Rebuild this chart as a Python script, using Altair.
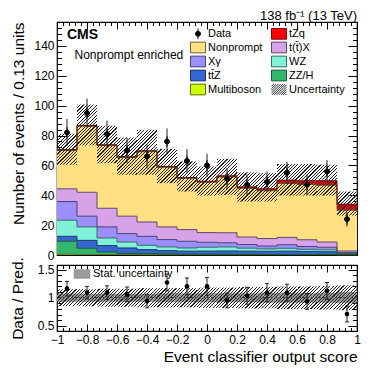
import altair as alt
import pandas as pd
import math

FONT = "Liberation Sans"

# ---------------- data ----------------
edges = [-1.0, -0.8667, -0.7333, -0.6, -0.4667, -0.3333, -0.2, -0.0667,
         0.0667, 0.2, 0.3333, 0.4667, 0.6, 0.7333, 0.8667, 1.0]

multiboson = [0.5, 0.4, 0.3, 0.3, 0.2, 0.2, 0.2, 0.2, 0.2, 0.2, 0.2, 0.2, 0.2, 0.2, 0.1]
zzh        = [8.7, 4.1, 1.7, 0.8, 0.7, 0.5, 0.4, 0.3, 0.3, 0.3, 0.2, 0.2, 0.2, 0.2, 0.1]
ttz        = [3.3, 5.3, 4.3, 3.6, 2.7, 2.2, 2.0, 2.1, 2.2, 2.1, 2.1, 2.2, 2.0, 1.8, 0.5]
wz         = [10.8, 9.0, 5.1, 4.0, 2.9, 2.5, 2.1, 2.6, 2.7, 2.0, 1.6, 1.9, 1.4, 1.3, 0.3]
xgamma     = [12.5, 7.2, 7.4, 5.6, 6.0, 4.9, 4.5, 3.3, 2.8, 2.4, 1.9, 2.4, 1.9, 1.7, 0.6]
ttx        = [8.5, 16.0, 12.5, 11.7, 9.6, 8.5, 7.8, 6.5, 6.7, 5.0, 5.0, 4.9, 4.5, 3.5, 1.1]
nonprompt  = [25.7, 44.2, 42.0, 39.3, 47.1, 39.9, 34.2, 33.7, 37.3, 32.6, 32.0, 36.1, 37.0, 38.0, 27.3]
tzq        = [0.5, 0.6, 0.5, 0.5, 0.6, 0.6, 0.7, 0.7, 0.8, 1.0, 1.3, 2.2, 2.5, 3.0, 4.0]

data_obs = [82, 95, 81, 70, 66, 76, 63, 60, 51, 47, 49, 55, 47, 56, 24]
data_err = [9.1, 9.7, 9.0, 8.4, 8.1, 8.7, 7.9, 7.7, 7.1, 6.9, 7.0, 7.4, 6.9, 7.5, 4.9]

unc_hi = [81.0, 100.7, 86.6, 78.7, 83.9, 71.1, 62.6, 59.3, 64.4, 55.3, 54.8, 60.9, 60.9, 60.5, 42.5]
unc_lo = [60.4, 73.4, 61.5, 53.7, 53.7, 48.1, 42.5, 39.8, 40.3, 35.8, 35.8, 39.8, 39.8, 39.8, 26.4]

ratio_val = [1.16, 1.09, 1.09, 1.06, 0.94, 1.27, 1.20, 1.20, 0.95, 1.035, 1.09, 1.09, 0.935, 1.12, 0.71]
ratio_err = [0.13, 0.11, 0.12, 0.13, 0.12, 0.15, 0.15, 0.16, 0.13, 0.15, 0.16, 0.15, 0.14, 0.15, 0.14]
ratio_unc_hi = [1.15, 1.15, 1.16, 1.16, 1.17, 1.17, 1.17, 1.18, 1.18, 1.19, 1.19, 1.20, 1.20, 1.21, 1.22]
ratio_unc_lo = [0.85, 0.85, 0.84, 0.84, 0.83, 0.83, 0.83, 0.82, 0.82, 0.81, 0.81, 0.80, 0.80, 0.79, 0.78]
stat_hi = [1.07, 1.07, 1.07, 1.07, 1.07, 1.08, 1.08, 1.08, 1.08, 1.08, 1.09, 1.09, 1.09, 1.09, 1.10]
stat_lo = [0.93, 0.93, 0.93, 0.93, 0.93, 0.92, 0.92, 0.92, 0.92, 0.92, 0.91, 0.91, 0.91, 0.91, 0.90]

# legend entries, filled column by column (two columns of five)
legend_order = ["Data", "Nonprompt", "X\u03b3", "tt\u0304Z", "Multiboson",
                "tZq", "t(t\u0304)X", "WZ", "ZZ/H", "Uncertainty"]
stack = [("Multiboson", multiboson), ("ZZ/H", zzh), ("tt\u0304Z", ttz), ("WZ", wz),
         ("X\u03b3", xgamma), ("t(t\u0304)X", ttx), ("Nonprompt", nonprompt), ("tZq", tzq)]

fill_col = {"Data": "#000000", "tZq": "#ff0000", "Nonprompt": "#ffe082",
            "t(t\u0304)X": "#d8a2e8", "X\u03b3": "#9d8ffb", "WZ": "#80f2d8",
            "tt\u0304Z": "#3467d2", "ZZ/H": "#32b86c", "Multiboson": "#ccff00",
            "Uncertainty": "rgba(255,255,255,0)"}
line_col = {"Data": "#000000", "tZq": "#7a0000", "Nonprompt": "#6e5f35",
            "t(t\u0304)X": "#5e4666", "X\u03b3": "#45407a", "WZ": "#356b60",
            "tt\u0304Z": "#1a3366", "ZZ/H": "#1a5533", "Multiboson": "#5c7300",
            "Uncertainty": "#333333"}

# ---------------- tables ----------------
nb = len(data_obs)
lo = edges[:-1]
hi = edges[1:]
ctr = [(a + b) / 2 for a, b in zip(lo, hi)]

rows, lrows = [], []
cum = [0.0] * nb
for name, vals in stack:
    for i in range(nb):
        rows.append({"proc": name, "lo": lo[i], "hi": hi[i], "y0": cum[i],
                     "y1": cum[i] + vals[i], "fc": fill_col[name]})
    cum = [c + v for c, v in zip(cum, vals)]
    for i in range(nb + 1):
        lrows.append({"proc": name, "x": edges[i], "y": cum[min(i, nb - 1)],
                      "lc": line_col[name]})
df_stack = pd.DataFrame(rows)
df_lines = pd.DataFrame(lrows)

df_data = pd.DataFrame({"c": ctr, "n": data_obs,
                        "dlo": [n - e for n, e in zip(data_obs, data_err)],
                        "dhi": [n + e for n, e in zip(data_obs, data_err)],
                        "proc": ["Data"] * nb})
df_rdata = pd.DataFrame({"c": ctr, "r": ratio_val,
                         "rlo": [r - e for r, e in zip(ratio_val, ratio_err)],
                         "rhi": [r + e for r, e in zip(ratio_val, ratio_err)]})
df_stat = pd.DataFrame({"x": edges, "hi": stat_hi + [stat_hi[-1]], "lo": stat_lo + [stat_lo[-1]],
                        "lab": ["Stat. uncertainty"] * (nb + 1)})

# ---------------- style helpers ----------------
W, H_MAIN, H_RATIO = 300, 233, 66
YMAX = 156
RDOM = [0.41, 1.58]


def hatch(w, h, x0, y0, spacing=3.3, width=0.8, color="#222222"):
    """diagonal '/' hatching as a hard-stop linear gradient aligned to a global lattice"""
    L = w + h * h / w
    d = width * math.sqrt(2) / L
    clear = "rgba(255,255,255,0)"
    stops = []
    k0 = math.floor((x0 + y0) / spacing) - 1
    k1 = math.ceil((x0 + y0 + L) / spacing) + 1
    for k in range(k0, k1 + 1):
        t = (k * spacing - (x0 + y0)) / L
        a, b = min(max(t, 0.0), 1.0), min(max(t + d, 0.0), 1.0)
        if b <= 0 or a >= 1:
            continue
        stops += [{"offset": round(a, 5), "color": clear}, {"offset": round(a, 5), "color": color},
                  {"offset": round(b, 5), "color": color}, {"offset": round(b, 5), "color": clear}]
    return {"gradient": "linear", "x1": 0, "y1": 0, "x2": 1, "y2": round(h / w, 5), "stops": stops}


def hatch_symbol(hw=1.4, hh=1.0, step=0.42):
    parts = []
    c = -hw - hh
    while c <= hw + hh:
        y0, y1 = max(-hh, c - hw), min(hh, c + hw)
        if y1 - y0 > 0.05:
            parts.append(f"M{c - y0:.3f},{y0:.3f}L{c - y1:.3f},{y1:.3f}")
        c += step
    return "".join(parts)


BOX = "M-1.4,-1H1.4V1H-1.4Z"
DATA_SYM = "M0,-1V1M-0.47,0A0.47,0.47 0 1,0 0.47,0A0.47,0.47 0 1,0 -0.47,0Z"
shape_range = [DATA_SYM if p == "Data" else (hatch_symbol() if p == "Uncertainty" else BOX)
               for p in legend_order]

x_ticks = [round(-1 + 0.04 * i, 2) for i in range(51)]
y_ticks = list(range(0, 153, 4))
r_ticks = [round(0.5 + 0.1 * i, 1) for i in range(11)]

XT = "abs(round(datum.value*100)) % 20 == 0"
YT = "datum.value % 20 == 0"
RT = "abs(round(datum.value*10)) % 5 == 0"


def axis(orient, values, test, major, minor, labels=False, **kw):
    a = dict(orient=orient, values=values, domain=False, grid=False,
             tickSize={"condition": {"test": test, "value": -major}, "value": -minor},
             tickColor="black", tickWidth=1, labels=labels, labelOverlap=False,
             labelFlush=False)
    if labels:
        a.update(labelExpr=f"{test} ? datum.label : ''", format="~g",
                 labelPadding=major + 3)
    a.update(kw)
    return alt.Axis(**a)


xsc = alt.Scale(domain=[-1, 1], nice=False, zero=False)
ysc = alt.Scale(domain=[0, YMAX], nice=False)
rsc = alt.Scale(domain=RDOM, nice=False, zero=False)


def band_layers(vlo, vhi, yscale, ytop, ypx):
    """one hatched rect per bin, hatch phase continuous across bins"""
    out = []
    bw = W / nb
    for i in range(nb):
        x0 = (lo[i] + 1) / 2 * W
        y0 = (ytop - vhi[i]) * ypx
        h = (vhi[i] - vlo[i]) * ypx
        d = pd.DataFrame({"a": [lo[i]], "b": [hi[i]], "l": [vlo[i]], "u": [vhi[i]]})
        out.append(alt.Chart(d).mark_rect(fill=hatch(bw, h, x0, y0), strokeWidth=0).encode(
            x=alt.X("a:Q", scale=xsc, axis=None), x2="b:Q",
            y=alt.Y("u:Q", scale=yscale, axis=None), y2="l:Q"))
    return out


# ---------------- main panel ----------------
rects = alt.Chart(df_stack).mark_rect(strokeWidth=0).encode(
    x=alt.X("lo:Q", scale=xsc, axis=axis("bottom", x_ticks, XT, 7, 3.5), title=None),
    x2="hi:Q",
    y=alt.Y("y0:Q", scale=ysc,
            axis=axis("left", y_ticks, YT, 9, 4.5, labels=True, titleAnchor="end",
                      titlePadding=7),
            title="Number of events / 0.13 units"),
    y2="y1:Q",
    color=alt.Color("fc:N", scale=None),
)

steps = alt.Chart(df_lines).mark_line(interpolate="step-after", strokeWidth=1).encode(
    x=alt.X("x:Q", scale=xsc, axis=axis("top", x_ticks, XT, 7, 3.5), title=None),
    y=alt.Y("y:Q", scale=ysc, axis=axis("right", y_ticks, YT, 9, 4.5), title=None),
    detail="proc:N",
    color=alt.Color("lc:N", scale=None),
)

main_bands = band_layers(unc_lo, unc_hi, ysc, YMAX, H_MAIN / YMAX)

err = alt.Chart(df_data).mark_rule(color="#222222", strokeWidth=1).encode(
    x=alt.X("c:Q", scale=xsc, axis=None),
    y=alt.Y("dlo:Q", scale=ysc, axis=None),
    y2="dhi:Q",
)

main_legend = alt.Legend(orient="none", legendX=135, legendY=5.5, columns=2, title=None,
                         padding=0, rowPadding=-2, columnPadding=6, labelOffset=4,
                         symbolSize=115, symbolStrokeWidth=1, labelFontSize=11,
                         labelFont=FONT, labelColor="black", symbolOpacity=1)

pts = alt.Chart(df_data).mark_point(filled=True, opacity=1, size=115, strokeWidth=1).encode(
    x=alt.X("c:Q", scale=xsc, axis=None),
    y=alt.Y("n:Q", scale=ysc, axis=None),
    shape=alt.Shape("proc:N", scale=alt.Scale(domain=legend_order, range=shape_range),
                    legend=main_legend),
    fill=alt.Fill("proc:N", scale=alt.Scale(domain=legend_order,
                                            range=[fill_col[p] for p in legend_order]),
                  legend=main_legend),
    stroke=alt.Stroke("proc:N", scale=alt.Scale(domain=legend_order,
                                                range=[line_col[p] for p in legend_order]),
                      legend=main_legend),
)

txt_df = pd.DataFrame({"t": [0]})
cms = alt.Chart(txt_df).mark_text(text="CMS", font=FONT, fontSize=14, fontWeight="bold",
                                  align="left", baseline="alphabetic", color="black").encode(
    x=alt.value(10), y=alt.value(16.7))
region = alt.Chart(txt_df).mark_text(text="Nonprompt enriched", font=FONT, fontSize=12,
                                     align="left", baseline="alphabetic", color="black").encode(
    x=alt.value(17.5), y=alt.value(36.5))

main = alt.layer(rects, steps, *main_bands, err, pts, cms, region).resolve_axis(
    x="independent", y="independent").properties(
    width=W, height=H_MAIN,
    title=alt.Title("138 fb\u207b\u00b9 (13 TeV)", anchor="end", frame="group", font=FONT,
                    fontSize=13, fontWeight="normal", color="black", offset=-1))

# ---------------- ratio panel ----------------
stat_band = alt.Chart(df_stat).mark_area(interpolate="step-after", opacity=1,
                                         strokeWidth=0).encode(
    x=alt.X("x:Q", scale=xsc,
            axis=axis("bottom", x_ticks, XT, 7, 3.5, labels=True, titleAnchor="end",
                      titlePadding=1),
            title="Event classifier output score"),
    y=alt.Y("hi:Q", scale=rsc,
            axis=axis("left", r_ticks, RT, 9, 4.5, labels=True, titlePadding=11.5),
            title="Data / Pred."),
    y2="lo:Q",
    fill=alt.Fill("lab:N", scale=alt.Scale(domain=["Stat. uncertainty"], range=["#9a9a9a"]),
                  legend=alt.Legend(orient="none", legendX=19, legendY=3, title=None,
                                    padding=0, symbolType="M-1.4,-0.8H1.4V0.8H-1.4Z",
                                    symbolSize=140, symbolStrokeWidth=0, labelOffset=5,
                                    labelFontSize=11, labelFont=FONT, labelColor="black")),
)

ratio_frame = alt.Chart(df_stat).mark_area(opacity=0).encode(
    x=alt.X("x:Q", scale=xsc, axis=axis("top", x_ticks, XT, 7, 3.5), title=None),
    y=alt.Y("hi:Q", scale=rsc, axis=axis("right", r_ticks, RT, 9, 4.5), title=None),
)

ratio_bands = band_layers(ratio_unc_lo, ratio_unc_hi, rsc, RDOM[1],
                          H_RATIO / (RDOM[1] - RDOM[0]))

one = alt.Chart(txt_df).mark_rule(color="#444444", strokeWidth=1.3, strokeDash=[2, 2]).encode(
    y=alt.YDatum(1, scale=rsc, axis=None, type="quantitative"))

rerr = alt.Chart(df_rdata).mark_rule(color="#222222", strokeWidth=1).encode(
    x=alt.X("c:Q", scale=xsc, axis=None),
    y=alt.Y("rlo:Q", scale=rsc, axis=None),
    y2="rhi:Q",
)
cap_lo = alt.Chart(df_rdata).mark_tick(orient="horizontal", size=4, thickness=1,
                                       color="#222222", opacity=1).encode(
    x=alt.X("c:Q", scale=xsc, axis=None), y=alt.Y("rlo:Q", scale=rsc, axis=None))
cap_hi = alt.Chart(df_rdata).mark_tick(orient="horizontal", size=4, thickness=1,
                                       color="#222222", opacity=1).encode(
    x=alt.X("c:Q", scale=xsc, axis=None), y=alt.Y("rhi:Q", scale=rsc, axis=None))
rpts = alt.Chart(df_rdata).mark_circle(size=22, color="black", opacity=1).encode(
    x=alt.X("c:Q", scale=xsc, axis=None),
    y=alt.Y("r:Q", scale=rsc, axis=None),
)

ratio = alt.layer(stat_band, ratio_frame, *ratio_bands, one, rerr, cap_lo, cap_hi,
                  rpts).resolve_axis(x="independent", y="independent").properties(
    width=W, height=H_RATIO)

chart = alt.vconcat(main, ratio, spacing=10, bounds="flush").resolve_scale(
    x="independent", y="independent", fill="independent", shape="independent",
    stroke="independent").resolve_legend(
    fill="independent", shape="independent", stroke="independent").properties(
    padding={"left": 2, "top": 0, "right": 0, "bottom": 0}
).configure_view(stroke="black", strokeWidth=1.2).configure_axis(
    labelFont=FONT, labelFontSize=12, labelColor="black",
    titleFont=FONT, titleFontSize=15.5, titleFontWeight="normal", titleColor="black",
).configure_legend(labelFont=FONT)

chart.save("out.html", embed_options={"renderer": "svg", "actions": False})
